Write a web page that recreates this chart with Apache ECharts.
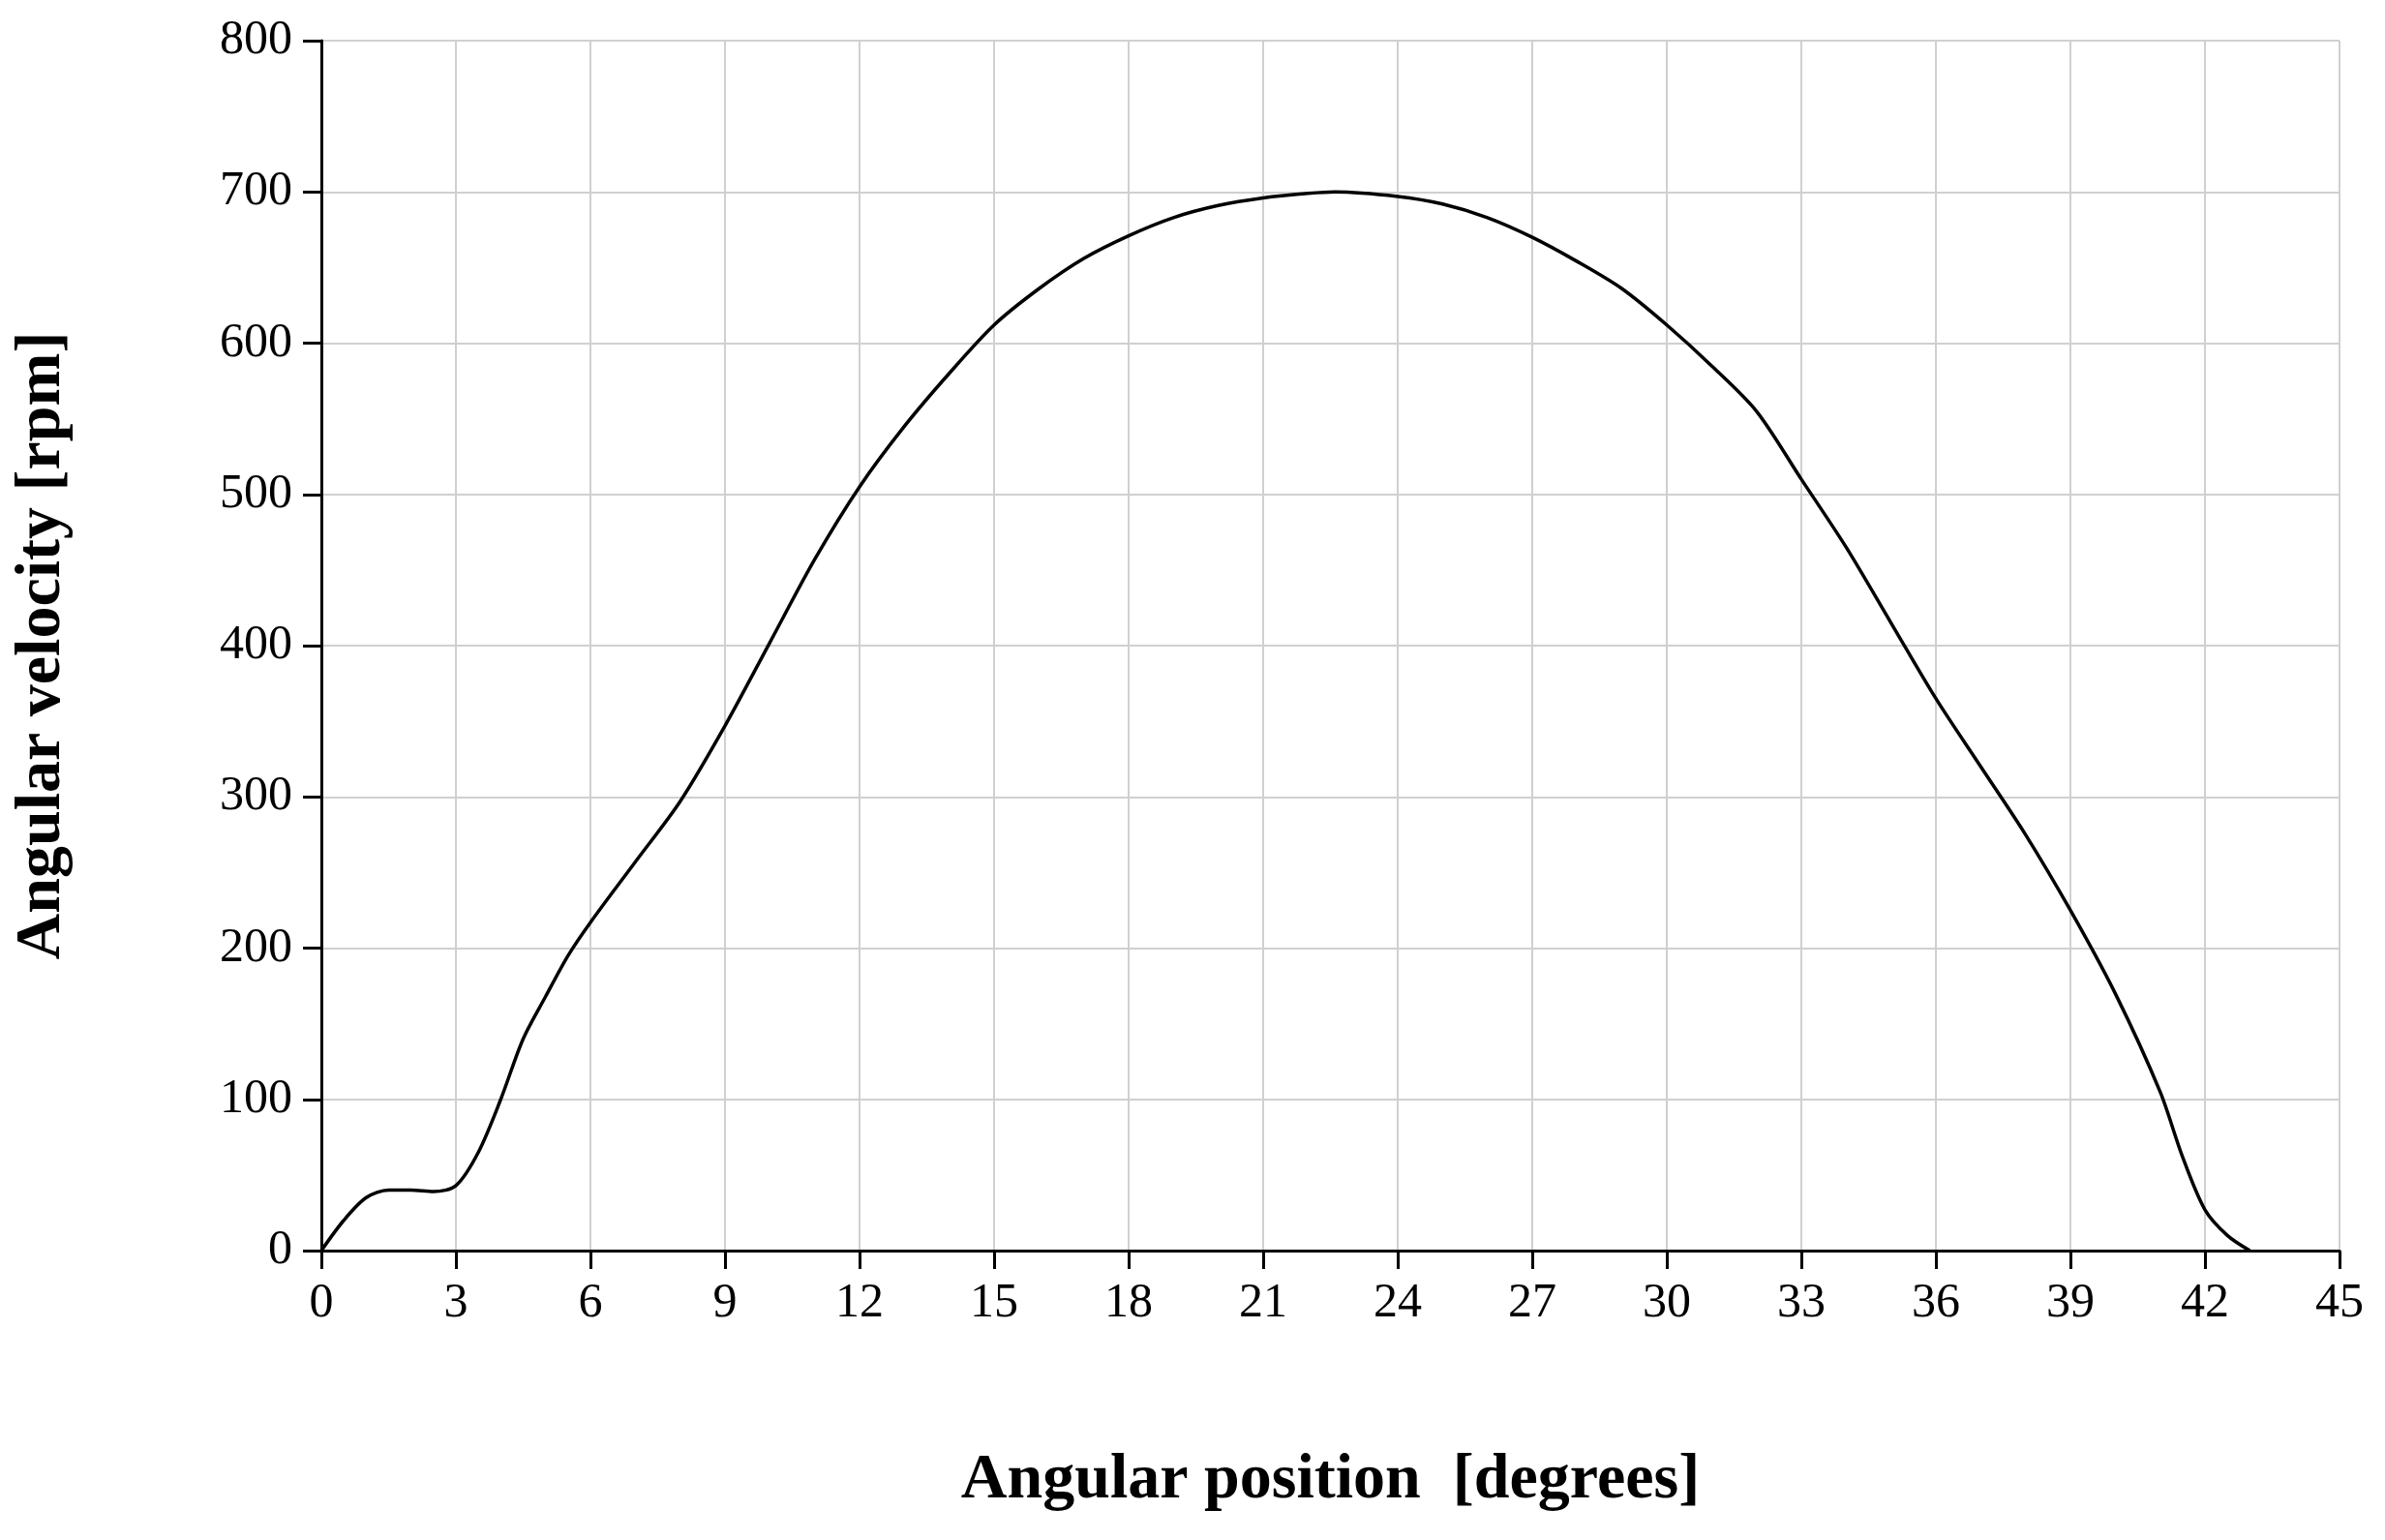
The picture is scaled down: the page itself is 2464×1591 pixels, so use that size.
<!DOCTYPE html>
<html>
<head>
<meta charset="utf-8">
<script src="https://cdn.jsdelivr.net/npm/echarts@6/dist/echarts.min.js"></script>
</head>
<body style="margin:0;padding:0;background:#fff">
<div id="chart" style="width:2464px;height:1591px"></div>
<script>
var positions = [0,0.5,1,1.5,2,2.5,3,3.5,4,4.5,5,5.5,6,7,8,9,10,11,12,13,14,15,16,17,18,19,20,21,22,22.6,24,25,26,27,28,29,30,31,32,33,34,35,36,37,38,39,40,41,41.5,42,42.5,43];
var velocity  = [0,20,35,40,40,39,43,65,100,140,168,195,217,257,297,347,402,457,505,545,580,612,636,656,671,683,691,696,699,700,697,692,683,670,654,636,612,585,555,510,465,415,365,320,275,225,170,105,62,27,10,0];

var chart = echarts.init(document.getElementById('chart'));
var font = '"Liberation Serif", serif';
chart.setOption({
    animation: false,
    grid: { left: 332, right: 47, top: 42, bottom: 299 },
    xAxis: {
        type: 'value', min: 0, max: 45, interval: 3,
        name: 'Angular position  [degrees]', nameLocation: 'middle', nameGap: 205,
        nameTextStyle: { fontFamily: font, fontSize: 66, fontWeight: 'bold', color: '#000' },
        axisLine: { lineStyle: { color: '#000', width: 3 } },
        axisTick: { length: 19, lineStyle: { color: '#000', width: 3 } },
        axisLabel: { fontFamily: font, fontSize: 50, color: '#000', margin: 30 },
        splitLine: { show: true, lineStyle: { color: '#d0d0d0', width: 2 } }
    },
    yAxis: {
        type: 'value', min: 0, max: 800, interval: 100,
        name: 'Angular velocity [rpm]', nameLocation: 'middle', nameGap: 255, nameRotate: 90,
        nameTextStyle: { fontFamily: font, fontSize: 66, fontWeight: 'bold', color: '#000' },
        axisLine: { show: true, lineStyle: { color: '#000', width: 3 } },
        axisTick: { show: true, length: 19, lineStyle: { color: '#000', width: 3 } },
        axisLabel: { fontFamily: font, fontSize: 50, color: '#000', margin: 30 },
        splitLine: { show: true, lineStyle: { color: '#d0d0d0', width: 2 } }
    },
    series: [{
        type: 'line', smooth: 0.3, showSymbol: false,
        lineStyle: { color: '#000', width: 3.5 },
        data: positions.map(function (p, i) { return [p, velocity[i]]; })
    }]
});
</script>
</body>
</html>
